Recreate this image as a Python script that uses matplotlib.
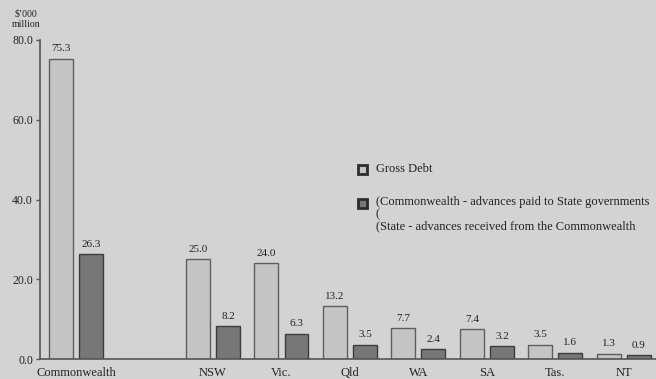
import matplotlib
matplotlib.use("Agg")
import matplotlib.pyplot as plt
from matplotlib.patches import Rectangle
import numpy as np

# Data ($'000 million)
categories = ["Commonwealth", "NSW", "Vic.", "Qld", "WA", "SA", "Tas.", "NT"]
positions = [0, 2, 3, 4, 5, 6, 7, 8]
gross_debt = [75.3, 25.0, 24.0, 13.2, 7.7, 7.4, 3.5, 1.3]
advances = [26.3, 8.2, 6.3, 3.5, 2.4, 3.2, 1.6, 0.9]
y_ticks = [0.0, 20.0, 40.0, 60.0, 80.0]

BG = "#d3d3d3"
LIGHT = "#c4c4c4"
LIGHT_EDGE = "#5e5e5e"
DARK = "#777777"
DARK_EDGE = "#3c3c3c"
TEXT = "#222222"

plt.rcParams["font.family"] = ["Liberation Serif", "DejaVu Serif"]

fig = plt.figure(figsize=(6.56, 3.79), dpi=100, facecolor=BG)
ax = fig.add_axes([40 / 656, 20 / 379, 616 / 656, 319 / 379], facecolor=BG)

x = np.array(positions, dtype=float)
off = 0.22
w = 0.35
b1 = ax.bar(x - off, gross_debt, width=w, color=LIGHT, edgecolor=LIGHT_EDGE, linewidth=1.0)
b2 = ax.bar(x + off, advances, width=w, color=DARK, edgecolor=DARK_EDGE, linewidth=1.0)

for bars, vals in ((b1, gross_debt), (b2, advances)):
    for r, v in zip(bars, vals):
        ax.annotate(f"{v:.1f}", (r.get_x() + r.get_width() / 2, v),
                    xytext=(0, 4), textcoords="offset points",
                    ha="center", va="bottom", fontsize=8, color=TEXT)

ax.set_xlim(-0.526, 8.47)
ax.set_ylim(0, 80)
ax.set_yticks(y_ticks)
ax.set_yticklabels([f"{t:.1f}" for t in y_ticks], fontsize=8.5, color=TEXT)
ax.set_xticks(x)
ax.set_xticklabels(categories, fontsize=9, color=TEXT)
ax.tick_params(axis="x", length=0, pad=6)
ax.tick_params(axis="y", length=3, width=1, color="#555555", pad=2, direction="out")

for s in ("top", "right"):
    ax.spines[s].set_visible(False)
for s in ("left", "bottom"):
    ax.spines[s].set_color("#555555")
    ax.spines[s].set_linewidth(1.2)

# Unit label above the value axis
fig.text(26 / 656, 1 - 19 / 379, "$\u2019000\nmillion", ha="center", va="center",
         fontsize=7, color=TEXT, linespacing=1.2)

# Legend
def key(xp, yp, face, edge):
    s = 9
    fig.patches.append(Rectangle(((xp - s / 2) / 656, 1 - (yp + s / 2) / 379),
                                 s / 656, s / 379, transform=fig.transFigure,
                                 facecolor=face, edgecolor=edge, linewidth=2.0))

key(362, 169, LIGHT, "#2c2c2c")
key(362, 203, DARK, "#2c2c2c")
fig.text(376 / 656, 1 - 169 / 379, "Gross Debt", ha="left", va="center",
         fontsize=9, color=TEXT)
fig.text(376 / 656, 1 - 196 / 379,
         "(Commonwealth - advances paid to State governments\n(\n"
         "(State - advances received from the Commonwealth",
         ha="left", va="top", fontsize=9, color=TEXT, linespacing=1.02)

fig.savefig("out.png", dpi=100, facecolor=BG)
